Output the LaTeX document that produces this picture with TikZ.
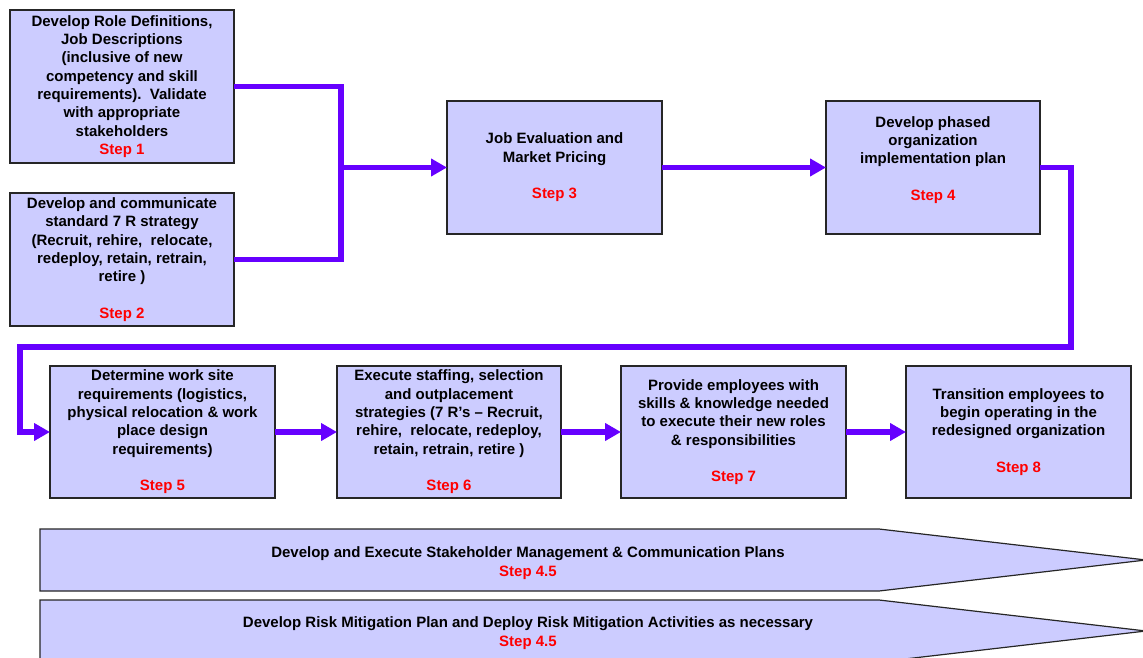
\documentclass[tikz,border=0pt]{standalone}
\usepackage{fontspec}
\setmainfont{Liberation Sans}
\usetikzlibrary{arrows.meta}
\definecolor{boxfill}{RGB}{204,204,255}
\definecolor{conn}{RGB}{102,0,255}
\definecolor{stepred}{RGB}{255,0,0}
\newcommand{\stp}[1]{\textcolor{stepred}{#1}}
\begin{document}
\begin{tikzpicture}[x=1pt,y=-1pt,
  txt/.style={font=\bfseries\fontsize{15}{18.35}\selectfont, align=center},
  stepbox/.style={txt, draw=black!85, line width=1.2pt, fill=boxfill,
    inner sep=0pt, outer sep=0pt, minimum height=133pt, minimum width=224pt,
    execute at begin node={\rule{0pt}{16pt}}},
  link/.style={draw=conn, line width=5.5pt, line join=miter},
  linkarrow/.style={link, -{Triangle[length=16pt,width=17pt]}},
  banner/.style={draw=black!85, line width=1.2pt, fill=boxfill}
]
\useasboundingbox (0,0) rectangle (1143,658);

% top row
\node[stepbox, minimum height=153pt] (s1) at (122,86.5)
  {Develop Role Definitions,\\Job Descriptions\\(inclusive of new\\competency and skill\\requirements).\ \ Validate\\with appropriate\\stakeholders\\\stp{Step 1}};
\node[stepbox] (s2) at (122,259.5)
  {Develop and communicate\\standard 7 R strategy\\(Recruit, rehire,\ \ relocate,\\redeploy, retain, retrain,\\retire )\\\mbox{}\\\stp{Step 2}};
\node[stepbox, minimum width=215pt] (s3) at (554.5,167.5)
  {Job Evaluation and\\Market Pricing\\\mbox{}\\\stp{Step 3}};
\node[stepbox, minimum width=214pt] (s4) at (933,167.5)
  {Develop phased\\organization\\implementation plan\\\mbox{}\\\stp{Step 4}\\\mbox{}};

% second row
\node[stepbox, minimum height=132pt, minimum width=225pt] (s5) at (162.5,432)
  {Determine work site\\requirements (logistics,\\physical relocation \& work\\place design\\requirements)\\\mbox{}\\\stp{Step 5}};
\node[stepbox, minimum height=132pt, minimum width=224pt] (s6) at (449,432)
  {Execute staffing, selection\\and outplacement\\strategies (7 R’s – Recruit,\\rehire,\ \ relocate, redeploy,\\retain, retrain, retire )\\\mbox{}\\\stp{Step 6}};
\node[stepbox, minimum height=132pt, minimum width=225pt] (s7) at (733.5,432)
  {Provide employees with\\skills \& knowledge needed\\to execute their new roles\\\& responsibilities\\\mbox{}\\\stp{Step 7}};
\node[stepbox, minimum height=132pt, minimum width=225pt] (s8) at (1018.5,432)
  {Transition employees to\\begin operating in the\\redesigned organization\\\mbox{}\\\stp{Step 8}};

% connectors
\coordinate (j) at (341,167.5);
\coordinate (c1) at (1071,347);
\coordinate (c2) at (20,347);
\draw[link] (s1.east) -| (j);
\draw[link] (s2.east) -| (j);
\draw[linkarrow] (j) -- (s3.west);
\draw[linkarrow] (s3.east) -- (s4.west);
\draw[linkarrow] (s4.east) -| (c1) -- (c2) |- (s5.west);
\draw[linkarrow] (s5.east) -- (s6.west);
\draw[linkarrow] (s6.east) -- (s7.west);
\draw[linkarrow] (s7.east) -- (s8.west);

% bottom banners
\begin{scope}
\clip (0,0) rectangle (1143,658);
\draw[banner] (40,529) -- (879,529) -- (1146,560) -- (879,591) -- (40,591) -- cycle;
\draw[banner] (40,600) -- (879,600) -- (1146,631) -- (879,662) -- (40,662) -- cycle;
\end{scope}
\node[txt] (b1) at (528,563)
  {Develop and Execute Stakeholder Management \& Communication Plans\\\stp{Step 4.5}};
\node[txt] (b2) at (528,633)
  {Develop Risk Mitigation Plan and Deploy Risk Mitigation Activities as necessary\\\stp{Step 4.5}};
\end{tikzpicture}
\end{document}
